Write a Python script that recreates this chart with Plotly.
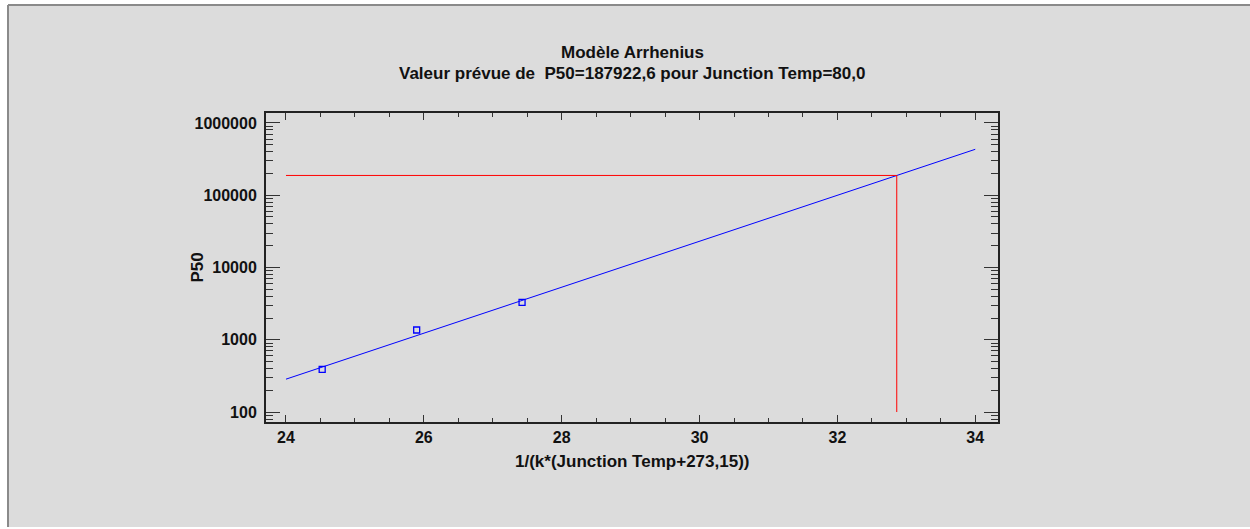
import plotly.graph_objects as go

# ---- data ----
obs_x = [24.525, 25.896, 27.425]          # 1/(k*(T+273.15)) for 200, 175, 150 °C
obs_y = [390, 1365, 3300]                 # P50 observed
fit_x = [24, 34]                          # fitted Arrhenius line end points
fit_y = [285, 432000]
pred_x = 32.861                           # 1/(k*(80+273.15))
pred_y = 187922.6
ref_x_start = 24
ref_y_bottom = 100

y_tickvals = [100, 1000, 10000, 100000, 1000000]
y_ticktext = ["100", "1000", "10000", "100000", "1000000"]
x_tickvals = [24, 26, 28, 30, 32, 34]

title1 = "Modèle Arrhenius"
title2 = "Valeur prévue de  P50=187922,6 pour Junction Temp=80,0"
x_title = "1/(k*(Junction Temp+273,15))"
y_title = "P50"

# ---- layout geometry (pixels) ----
W, H = 1250, 529
L, R, T, B = 266, 252, 113, 107
pw, ph = W - L - R, H - T - B


def px_x(p):
    return (p - L) / pw


def px_y(p):
    return (H - B - p) / ph


FONT = "Liberation Sans, Arial, sans-serif"

fig = go.Figure()

fig.add_trace(go.Scatter(
    x=fit_x, y=fit_y, mode="lines",
    line=dict(color="#0000ff", width=1), showlegend=False, hoverinfo="skip"))

fig.add_trace(go.Scatter(
    x=[ref_x_start, pred_x, pred_x], y=[pred_y, pred_y, ref_y_bottom], mode="lines",
    line=dict(color="#ff0000", width=1), showlegend=False, hoverinfo="skip"))

fig.add_trace(go.Scatter(
    x=obs_x, y=obs_y, mode="markers",
    marker=dict(symbol="square-open", size=6, color="#0000ff", line=dict(width=1.3, color="#0000ff")),
    showlegend=False))

# outer gray panel (fill) + top/left frame edges
fig.add_shape(type="rect", xref="paper", yref="paper", layer="below",
              x0=px_x(8), x1=px_x(1262), y0=px_y(527), y1=px_y(5),
              fillcolor="#dcdcdc", line=dict(width=0))
fig.add_shape(type="line", xref="paper", yref="paper", layer="below",
              x0=px_x(8), x1=px_x(1262), y0=px_y(5), y1=px_y(5),
              line=dict(color="#8a8a8a", width=2))
fig.add_shape(type="line", xref="paper", yref="paper", layer="below",
              x0=px_x(8), x1=px_x(8), y0=px_y(527), y1=px_y(5),
              line=dict(color="#8a8a8a", width=2))

tickfont = dict(family=FONT, size=16, color="#111111", weight="bold")

fig.update_xaxes(
    range=[23.71, 34.33], tickvals=x_tickvals, ticks="inside", ticklen=7, tickwidth=1,
    tickcolor="#333333",
    minor=dict(dtick=0.5, tick0=24, ticks="inside", ticklen=4, tickcolor="#333333"),
    showline=True, linecolor="#222222", linewidth=2, mirror="allticks",
    showgrid=False, zeroline=False, tickfont=tickfont, ticklabelstandoff=0)

fig.update_yaxes(
    type="log", range=[1.862, 6.138], tickvals=y_tickvals, ticktext=y_ticktext,
    ticks="inside", ticklen=14, tickwidth=1, tickcolor="#333333",
    minor=dict(dtick="D1", ticks="inside", ticklen=7, tickcolor="#333333"),
    showline=True, linecolor="#222222", linewidth=2, mirror="allticks",
    showgrid=False, zeroline=False, tickfont=tickfont, ticklabelstandoff=4)

ann_font = dict(family=FONT, size=17, color="#111111", weight="bold")
fig.add_annotation(text=title1, x=0.5, y=px_y(52), xref="paper", yref="paper",
                   showarrow=False, font=ann_font, xanchor="center", yanchor="middle")
fig.add_annotation(text=title2, x=0.5, y=px_y(73), xref="paper", yref="paper",
                   showarrow=False, font=ann_font, xanchor="center", yanchor="middle")
fig.add_annotation(text=x_title, x=0.5, y=px_y(461), xref="paper", yref="paper",
                   showarrow=False, font=ann_font, xanchor="center", yanchor="middle")
fig.add_annotation(text=y_title, x=px_x(197), y=0.5, xref="paper", yref="paper",
                   showarrow=False, font=ann_font, xanchor="center", yanchor="middle",
                   textangle=-90)

fig.update_layout(
    width=W, height=H, margin=dict(l=L, r=R, t=T, b=B, autoexpand=False),
    paper_bgcolor="white", plot_bgcolor="white", showlegend=False,
    font=dict(family=FONT))

fig.write_html("out.html", config={"displayModeBar": False},
               post_script="document.body.style.margin='0px';document.body.style.overflow='hidden';")
